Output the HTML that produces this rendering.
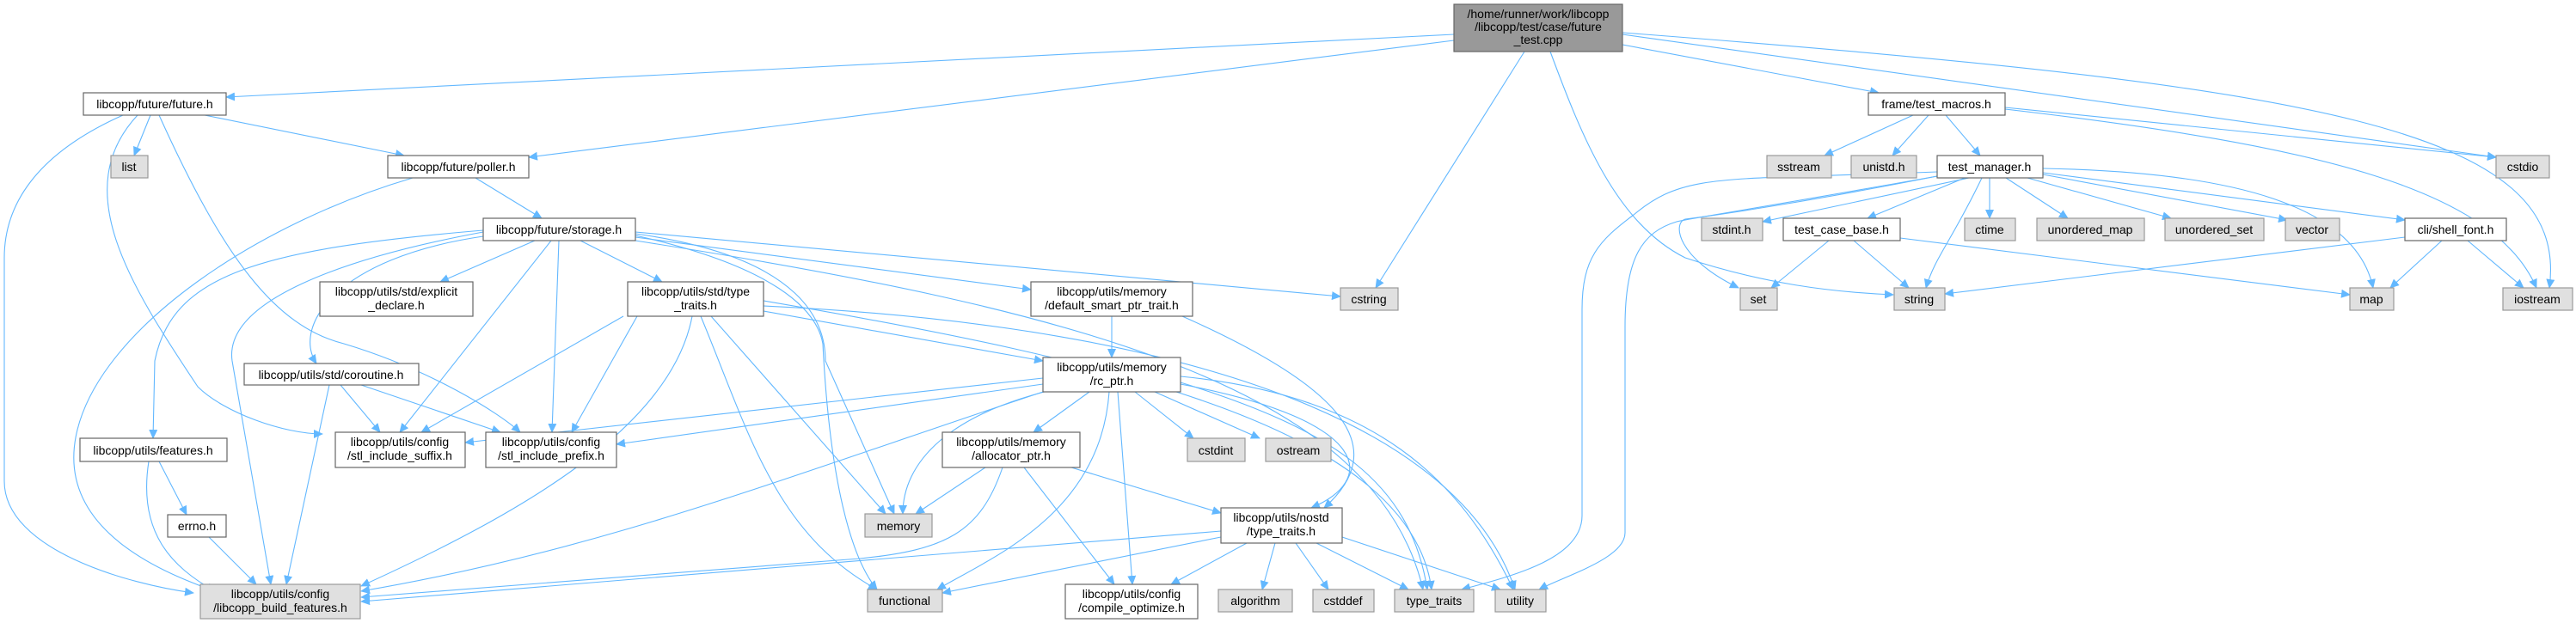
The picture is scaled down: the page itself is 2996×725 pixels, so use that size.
<!DOCTYPE html>
<html><head><meta charset="utf-8"><style>
html,body{margin:0;padding:0;background:#fff;}
svg{display:block;}
text{font-family:"Liberation Sans",sans-serif;font-size:14px;fill:#000;text-anchor:middle;}
.e{fill:none;stroke:#63b8ff;stroke-width:1.1;marker-end:url(#a);}
.w{fill:#fff;stroke:#666;stroke-width:1.2;}
.g{fill:#e0e0e0;stroke:#999;stroke-width:1.2;}
.d{fill:#999;stroke:#666;stroke-width:1.2;}
</style></head><body>
<svg width="2996" height="725" viewBox="0 0 2996 725" xmlns="http://www.w3.org/2000/svg">
<defs><marker id="a" markerWidth="11" markerHeight="10" refX="10" refY="5" orient="auto" markerUnits="userSpaceOnUse"><path d="M0,0 L11,5 L0,10 z" fill="#63b8ff"/></marker></defs>
<g>
<!-- main -->
<path class="e" d="M1691,40 L263,113"/>
<path class="e" d="M1691,47 L615,183"/>
<path class="e" d="M1773,60 L1600,335"/>
<path class="e" d="M1803,60 C1840,160 1880,260 1960,300 C2050,330 2130,340 2202,343"/>
<path class="e" d="M1887,52 L2185,108"/>
<path class="e" d="M1887,40 L2903,183"/>
<path class="e" d="M1887,38 C2700,100 2990,150 2965,335"/>
<!-- future.h -->
<path class="e" d="M175,134 L156,181"/>
<path class="e" d="M238,134 L470,181"/>
<path class="e" d="M143,134 C40,180 5,240 5,300 L5,560 C5,640 150,680 225,690"/>
<path class="e" d="M160,134 C80,220 150,330 230,450 C260,480 330,505 375,505"/>
<path class="e" d="M185,134 C260,300 320,380 400,400 C500,430 580,480 605,503"/>
<!-- poller -->
<path class="e" d="M480,207 C300,260 120,380 90,500 C60,620 200,670 255,690"/>
<path class="e" d="M553,207 L630,254"/>
<!-- storage -->
<path class="e" d="M622,280 L512,328"/>
<path class="e" d="M675,280 L770,328"/>
<path class="e" d="M562,275 C390,300 340,380 368,423"/>
<path class="e" d="M641,280 L465,503"/>
<path class="e" d="M650,280 L642,503"/>
<path class="e" d="M562,270 C400,300 260,350 270,420 L315,680"/>
<path class="e" d="M562,268 C300,290 200,320 180,420 L178,510"/>
<path class="e" d="M739,270 L1559,345"/>
<path class="e" d="M739,276 L1199,337"/>
<path class="e" d="M739,272 C940,300 960,380 960,420 L1040,598"/>
<path class="e" d="M739,274 C900,310 950,360 957,400 C965,560 990,650 1020,686"/>
<path class="e" d="M739,280 C1250,360 1600,450 1655,686"/>
<!-- std type_traits -->
<path class="e" d="M725,368 L490,503"/>
<path class="e" d="M741,368 L665,503"/>
<path class="e" d="M805,368 C780,500 600,600 420,682"/>
<path class="e" d="M815,368 C870,500 900,620 1020,686"/>
<path class="e" d="M827,368 L1030,598"/>
<path class="e" d="M888,362 L1213,420"/>
<path class="e" d="M888,350 C1300,420 1640,500 1665,686"/>
<path class="e" d="M888,356 C1400,380 1700,500 1762,686"/>
<!-- default smart -->
<path class="e" d="M1293,368 L1293,416"/>
<path class="e" d="M1375,368 C1560,450 1620,520 1540,591"/>
<!-- rc_ptr -->
<path class="e" d="M1213,440 L541,515"/>
<path class="e" d="M1213,447 L717,517"/>
<path class="e" d="M1213,456 C900,560 700,640 420,688"/>
<path class="e" d="M1240,450 C1100,480 1050,540 1050,598"/>
<path class="e" d="M1267,456 L1202,503"/>
<path class="e" d="M1290,456 C1280,600 1150,650 1090,686"/>
<path class="e" d="M1300,456 L1317,680"/>
<path class="e" d="M1320,456 L1388,510"/>
<path class="e" d="M1343,456 L1465,510"/>
<path class="e" d="M1373,447 C1600,490 1600,560 1525,591"/>
<path class="e" d="M1373,445 C1550,500 1640,560 1660,686"/>
<path class="e" d="M1373,438 C1600,460 1700,560 1760,686"/>
<!-- allocator -->
<path class="e" d="M1146,544 L1065,598"/>
<path class="e" d="M1166,544 C1140,620 1100,640 1000,650 L420,695"/>
<path class="e" d="M1191,544 L1296,680"/>
<path class="e" d="M1246,544 L1420,597"/>
<!-- nostd -->
<path class="e" d="M1420,618 L420,700"/>
<path class="e" d="M1420,625 L1096,690"/>
<path class="e" d="M1450,632 L1362,680"/>
<path class="e" d="M1483,632 L1468,686"/>
<path class="e" d="M1507,632 L1545,686"/>
<path class="e" d="M1531,632 L1638,686"/>
<path class="e" d="M1561,625 L1745,686"/>
<!-- coroutine -->
<path class="e" d="M396,448 L442,503"/>
<path class="e" d="M420,448 L582,503"/>
<path class="e" d="M383,448 L333,680"/>
<!-- features, errno -->
<path class="e" d="M185,537 L217,599"/>
<path class="e" d="M173,537 C160,620 200,660 250,688"/>
<path class="e" d="M243,625 L298,680"/>
<!-- test_macros -->
<path class="e" d="M2225,134 L2122,181"/>
<path class="e" d="M2243,134 L2201,181"/>
<path class="e" d="M2263,134 L2303,181"/>
<path class="e" d="M2332,125 L2903,183"/>
<path class="e" d="M2332,127 C2700,170 2900,220 2950,335"/>
<!-- test_manager -->
<path class="e" d="M2290,207 L2050,258"/>
<path class="e" d="M2285,207 L2172,254"/>
<path class="e" d="M2314,207 L2314,254"/>
<path class="e" d="M2333,207 L2405,254"/>
<path class="e" d="M2358,207 L2525,254"/>
<path class="e" d="M2376,203 L2660,256"/>
<path class="e" d="M2376,201 L2797,256"/>
<path class="e" d="M2376,196 C2600,200 2740,240 2760,335"/>
<path class="e" d="M2305,207 C2270,280 2250,300 2240,335"/>
<path class="e" d="M2253,205 C2100,235 2000,250 1960,255 C1945,260 1950,300 2022,335"/>
<path class="e" d="M2253,200 C2000,210 1960,200 1900,250 C1860,280 1840,300 1840,360 L1840,600 C1840,650 1760,670 1700,686"/>
<path class="e" d="M2253,205 C2000,250 1960,255 1950,258 C1910,270 1890,300 1890,380 L1890,620 C1890,650 1820,670 1790,686"/>
<!-- test_case_base -->
<path class="e" d="M2127,280 L2060,335"/>
<path class="e" d="M2156,280 L2220,335"/>
<path class="e" d="M2210,277 L2733,343"/>
<!-- shell_font -->
<path class="e" d="M2797,276 L2262,342"/>
<path class="e" d="M2840,280 L2780,335"/>
<path class="e" d="M2870,280 L2935,335"/>
</g>
<g>
<rect class="d" x="1691" y="5" width="196" height="55"/><text x="1789" y="21">/home/runner/work/libcopp</text><text x="1789" y="36">/libcopp/test/case/future</text><text x="1789" y="51">_test.cpp</text>
<rect class="w" x="97" y="108" width="166" height="26"/><text x="180" y="126">libcopp/future/future.h</text>
<rect class="g" x="129" y="181" width="43" height="26"/><text x="150" y="199">list</text>
<rect class="w" x="451" y="181" width="164" height="26"/><text x="533" y="199">libcopp/future/poller.h</text>
<rect class="w" x="562" y="254" width="177" height="26"/><text x="650" y="272">libcopp/future/storage.h</text>
<rect class="w" x="372" y="328" width="178" height="40"/><text x="461" y="344">libcopp/utils/std/explicit</text><text x="461" y="360">_declare.h</text>
<rect class="w" x="730" y="328" width="158" height="40"/><text x="809" y="344">libcopp/utils/std/type</text><text x="809" y="360">_traits.h</text>
<rect class="w" x="284" y="423" width="203" height="25"/><text x="385" y="441">libcopp/utils/std/coroutine.h</text>
<rect class="w" x="390" y="503" width="151" height="41"/><text x="465" y="519">libcopp/utils/config</text><text x="465" y="535">/stl_include_suffix.h</text>
<rect class="w" x="565" y="503" width="152" height="41"/><text x="641" y="519">libcopp/utils/config</text><text x="641" y="535">/stl_include_prefix.h</text>
<rect class="w" x="93" y="510" width="171" height="27"/><text x="178" y="529">libcopp/utils/features.h</text>
<rect class="w" x="195" y="599" width="68" height="26"/><text x="229" y="617">errno.h</text>
<rect class="g" x="233" y="680" width="186" height="40"/><text x="326" y="696">libcopp/utils/config</text><text x="326" y="712">/libcopp_build_features.h</text>
<rect class="w" x="1199" y="328" width="188" height="40"/><text x="1293" y="344">libcopp/utils/memory</text><text x="1293" y="360">/default_smart_ptr_trait.h</text>
<rect class="g" x="1559" y="335" width="67" height="26"/><text x="1592" y="353">cstring</text>
<rect class="w" x="1213" y="416" width="160" height="40"/><text x="1293" y="432">libcopp/utils/memory</text><text x="1293" y="448">/rc_ptr.h</text>
<rect class="w" x="1096" y="503" width="160" height="41"/><text x="1176" y="519">libcopp/utils/memory</text><text x="1176" y="535">/allocator_ptr.h</text>
<rect class="g" x="1381" y="510" width="67" height="27"/><text x="1414" y="529">cstdint</text>
<rect class="g" x="1472" y="510" width="76" height="27"/><text x="1510" y="529">ostream</text>
<rect class="g" x="1006" y="598" width="78" height="27"/><text x="1045" y="617">memory</text>
<rect class="w" x="1420" y="591" width="141" height="41"/><text x="1490" y="607">libcopp/utils/nostd</text><text x="1490" y="623">/type_traits.h</text>
<rect class="g" x="1009" y="686" width="87" height="26"/><text x="1052" y="704">functional</text>
<rect class="w" x="1239" y="680" width="154" height="40"/><text x="1316" y="696">libcopp/utils/config</text><text x="1316" y="712">/compile_optimize.h</text>
<rect class="g" x="1417" y="686" width="86" height="26"/><text x="1460" y="704">algorithm</text>
<rect class="g" x="1527" y="686" width="71" height="26"/><text x="1562" y="704">cstddef</text>
<rect class="g" x="1622" y="686" width="92" height="26"/><text x="1668" y="704">type_traits</text>
<rect class="g" x="1739" y="686" width="59" height="26"/><text x="1768" y="704">utility</text>
<rect class="w" x="2173" y="108" width="159" height="26"/><text x="2252" y="126">frame/test_macros.h</text>
<rect class="g" x="2055" y="181" width="75" height="26"/><text x="2092" y="199">sstream</text>
<rect class="g" x="2153" y="181" width="76" height="26"/><text x="2191" y="199">unistd.h</text>
<rect class="w" x="2253" y="181" width="123" height="26"/><text x="2314" y="199">test_manager.h</text>
<rect class="g" x="2903" y="181" width="62" height="26"/><text x="2934" y="199">cstdio</text>
<rect class="g" x="1979" y="254" width="71" height="26"/><text x="2014" y="272">stdint.h</text>
<rect class="w" x="2074" y="254" width="136" height="26"/><text x="2142" y="272">test_case_base.h</text>
<rect class="g" x="2285" y="254" width="59" height="26"/><text x="2314" y="272">ctime</text>
<rect class="g" x="2369" y="254" width="125" height="26"/><text x="2431" y="272">unordered_map</text>
<rect class="g" x="2518" y="254" width="115" height="26"/><text x="2575" y="272">unordered_set</text>
<rect class="g" x="2658" y="254" width="63" height="26"/><text x="2689" y="272">vector</text>
<rect class="w" x="2797" y="254" width="118" height="26"/><text x="2856" y="272">cli/shell_font.h</text>
<rect class="g" x="2024" y="335" width="43" height="26"/><text x="2045" y="353">set</text>
<rect class="g" x="2203" y="335" width="59" height="26"/><text x="2232" y="353">string</text>
<rect class="g" x="2733" y="335" width="51" height="26"/><text x="2758" y="353">map</text>
<rect class="g" x="2911" y="335" width="81" height="26"/><text x="2951" y="353">iostream</text>
</g>
</svg>
</body></html>
